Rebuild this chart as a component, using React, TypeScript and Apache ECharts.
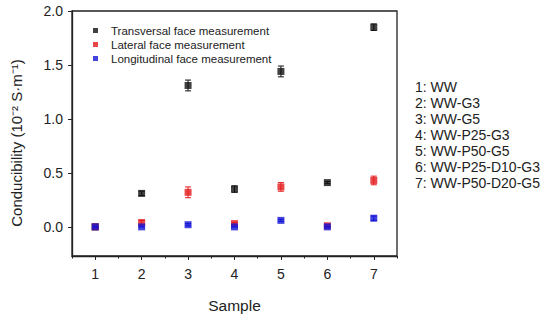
import React, { useEffect, useRef } from "react";
import * as echarts from "echarts";

const samples = [1, 2, 3, 4, 5, 6, 7];
const transversal = [0, 0.31, 1.31, 0.35, 1.44, 0.41, 1.85];
const transversalErr = [0, 0.02, 0.05, 0.03, 0.05, 0.01, 0.03];
const lateral = [0, 0.04, 0.32, 0.03, 0.37, 0.01, 0.43];
const lateralErr = [0, 0.02, 0.05, 0.01, 0.04, 0.01, 0.04];
const longitudinal = [0, 0, 0.02, 0, 0.06, 0, 0.08];
const longitudinalErr = [0, 0, 0.01, 0, 0.01, 0, 0.02];
const seriesNames = [
  "Transversal face measurement",
  "Lateral face measurement",
  "Longitudinal face measurement",
];
const sampleNames = [
  "1: WW",
  "2: WW-G3",
  "3: WW-G5",
  "4: WW-P25-G3",
  "5: WW-P50-G5",
  "6: WW-P25-D10-G3",
  "7: WW-P50-D20-G5",
];
const yTicks = [0, 0.5, 1.0, 1.5, 2.0];
const xMinorTicks = [0.5, 1.5, 2.5, 3.5, 4.5, 5.5, 6.5, 7.5];
const yTitle = "Conducibility (10\u207B\u00B2 S\u00B7m\u207B\u00B9)";

const colors = ["#111111", "#e41a1c", "#1414d6"];
const FONT = "'Liberation Sans', Arial, sans-serif";

export default function App() {
  const ref = useRef<HTMLDivElement>(null);
  useEffect(() => {
    if (!ref.current) return;
    const chart = echarts.init(ref.current, null, { renderer: "svg" });
    const vals = [transversal, lateral, longitudinal];
    const errs = [transversalErr, lateralErr, longitudinalErr];

    const scatterSeries = vals.map((v, i) => ({
      name: seriesNames[i],
      type: "scatter",
      symbol: "rect",
      symbolSize: 7,
      itemStyle: { color: colors[i] },
      data: samples.map((s, j) => [s, v[j]]),
      z: 3 + i,
    }));
    const errSeries = vals.map((v, i) => ({
      type: "custom",
      data: samples.map((s, j) => [s, v[j] - errs[i][j], v[j] + errs[i][j]]),
      z: 3 + i,
      renderItem: (params: any, api: any) => {
        const x = api.value(0);
        const p1 = api.coord([x, api.value(1)]);
        const p2 = api.coord([x, api.value(2)]);
        const w = 3;
        const st = { stroke: colors[i], lineWidth: 1 };
        return {
          type: "group",
          children: [
            { type: "line", shape: { x1: p1[0], y1: p1[1], x2: p2[0], y2: p2[1] }, style: st },
            { type: "line", shape: { x1: p1[0] - w, y1: p1[1], x2: p1[0] + w, y2: p1[1] }, style: st },
            { type: "line", shape: { x1: p2[0] - w, y1: p2[1], x2: p2[0] + w, y2: p2[1] }, style: st },
          ],
        };
      },
    }));

    const series: any[] = [];
    for (let i = 0; i < 3; i++) {
      series.push(errSeries[i]);
      series.push(scatterSeries[i]);
    }

    chart.setOption({
      animation: false,
      textStyle: { fontFamily: FONT },
      grid: {
        left: 72,
        right: 153,
        top: 11,
        bottom: 64,
        show: true,
        borderColor: "#222",
        borderWidth: 1.3,
      },
      legend: {
        data: seriesNames,
        orient: "vertical",
        left: 88,
        top: 19,
        icon: "rect",
        itemWidth: 5,
        itemHeight: 5,
        itemGap: 1,
        textStyle: {
          fontSize: 11.5,
          lineHeight: 13,
          color: "#222",
          fontFamily: FONT,
          padding: [0, 0, 0, 8],
        },
      },
      xAxis: [
        {
          type: "value",
          min: 0.5,
          max: 7.5,
          name: "Sample",
          nameLocation: "middle",
          nameGap: 41,
          nameTextStyle: { fontSize: 15.5, color: "#222", fontFamily: FONT },
          axisLine: { onZero: false, lineStyle: { color: "#222", width: 1.3 } },
          axisTick: { customValues: samples, length: 4, lineStyle: { color: "#222" } },
          axisLabel: {
            customValues: samples,
            fontSize: 14,
            color: "#222",
            margin: 11,
            fontFamily: FONT,
          },
          splitLine: { show: false },
        },
        {
          type: "value",
          min: 0.5,
          max: 7.5,
          position: "bottom",
          axisLine: { show: false, onZero: false },
          axisTick: { customValues: xMinorTicks, length: 2.5, lineStyle: { color: "#222" } },
          axisLabel: { show: false, customValues: xMinorTicks },
          splitLine: { show: false },
        },
      ],
      yAxis: {
        type: "value",
        min: -0.27,
        max: 2.0,
        axisLine: { show: true, onZero: false, lineStyle: { color: "#222", width: 1.3 } },
        axisTick: { customValues: yTicks, length: 4, lineStyle: { color: "#222" } },
        axisLabel: {
          customValues: yTicks,
          fontSize: 14,
          color: "#222",
          margin: 9,
          fontFamily: FONT,
          formatter: (v: number) => v.toFixed(1),
        },
        splitLine: { show: false },
      },
      graphic: [
        {
          type: "text",
          x: 16,
          y: 143,
          rotation: Math.PI / 2,
          style: {
            text: yTitle,
            fontSize: 15,
            fill: "#222",
            fontFamily: FONT,
            align: "center",
            verticalAlign: "middle",
          },
        },
        ...sampleNames.map((t, i) => ({
          type: "text",
          left: 415,
          top: 80 + i * 16,
          style: { text: t, fontSize: 14, fill: "#222", fontFamily: FONT },
        })),
      ],
      series,
    });
    return () => chart.dispose();
  }, []);
  return (
    <div
      ref={ref}
      style={{ position: "absolute", left: 0, top: 0, width: 550, height: 320 }}
    />
  );
}
